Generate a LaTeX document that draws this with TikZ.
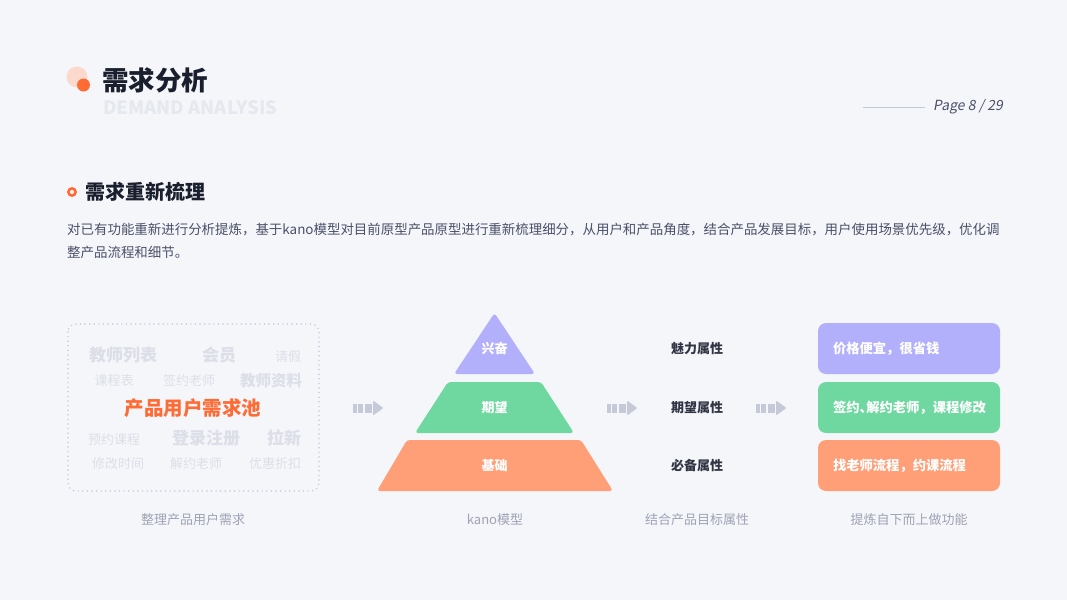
\documentclass[tikz,border=0pt]{standalone}
\usepackage{fontspec}
\setmainfont{Noto Sans CJK SC}
\newfontfamily\pagefont[FakeSlant=0.18]{Noto Sans CJK SC}
\usetikzlibrary{positioning}

\definecolor{bgpage}{HTML}{F5F6FA}
\definecolor{inkdark}{HTML}{1A1F2E}
\definecolor{inkbody}{HTML}{4A5068}
\definecolor{inkmute}{HTML}{9EA3B5}
\definecolor{cloudgray}{HTML}{DCDFE8}
\definecolor{ghostgray}{HTML}{E6E8EF}
\definecolor{linegray}{HTML}{C6CAD8}
\definecolor{accent}{HTML}{FF6B35}
\definecolor{accentpale}{HTML}{FBD9CD}
\definecolor{lvlpurple}{HTML}{B3B0FB}
\definecolor{lvlgreen}{HTML}{6ED8A0}
\definecolor{lvlorange}{HTML}{FF9F78}

\newcommand{\fsz}[1]{\fontsize{#1}{#1}\selectfont}

\tikzset{
  cloud word/.style={inner sep=0pt, text=cloudgray, font=\fsz{13}},
  cloud big/.style={inner sep=0pt, text=cloudgray, font=\fsz{17}\bfseries},
  layer text/.style={inner sep=0pt, text=white, font=\fsz{13}\bfseries},
  attr text/.style={inner sep=0pt, text=inkdark!90, font=\fsz{13}\bfseries},
  feature box/.style={rounded corners=8pt, minimum height=51pt, text width=152pt,
    inner xsep=15pt, inner ysep=0pt, align=left, text=white, font=\fsz{13.3}\bfseries},
  caption/.style={inner sep=0pt, text=inkmute, font=\fsz{13}},
  flow arrow/.pic={
    \fill[linegray] (0,-4.5) rectangle (3.5,4.5);
    \fill[linegray] (5,-4.5) rectangle (10,4.5);
    \fill[linegray] (11.5,-4.5) rectangle (18.5,4.5);
    \fill[linegray, rounded corners=1pt] (20,-7.5) -- (30.5,0) -- (20,7.5) -- cycle;
  }
}

\begin{document}
\begin{tikzpicture}[x=1pt,y=-1pt]
\fill[bgpage] (0,0) rectangle (1067,600);
\useasboundingbox (0,0) rectangle (1067,600);

% title
\fill[accentpale] (77,77) circle (10.5);
\fill[accent] (83.5,85) circle (6.5);
\node[anchor=west, inner sep=0pt, text=inkdark, font=\fsz{26.5}\bfseries] (title) at (102,80) {需求分析};
\node[anchor=west, inner sep=0pt, text=ghostgray, font=\fsz{18.5}\bfseries] (subtitle) at (103,108) {DEMAND ANALYSIS};

% page number
\coordinate (pageline) at (863,107.5);
\node[anchor=west, inner sep=0pt, text=inkbody, font=\pagefont\fsz{14}] (page) at (933,107) {Page 8 / 29};
\draw[linegray, line width=1pt] (pageline) -- ++(62,0);

% section heading
\draw[accent, line width=2.6pt] (72,192) circle (3.6);
\node[anchor=west, inner sep=0pt, text=inkdark, font=\fsz{20}\bfseries] (heading) at (85,192) {需求重新梳理};
\node[anchor=west, inner sep=0pt, text=inkbody, font=\fsz{13.45}] (para1) at (67,230)
  {对已有功能重新进行分析提炼，基于kano模型对目前原型产品原型进行重新梳理细分，从用户和产品角度，结合产品发展目标，用户使用场景优先级，优化调};
\node[anchor=west, inner sep=0pt, text=inkbody, font=\fsz{13.45}] (para2) at (67,252) {整产品流程和细节。};

% demand pool
\draw[linegray, line width=1.7pt, line cap=round, dash pattern=on 0pt off 4.6pt, rounded corners=8pt]
  (68,324) rectangle (319,491);
\node[cloud big] (w1) at (123,355) {教师列表};
\node[cloud big] (w2) at (219,355) {会员};
\node[cloud word] (w3) at (288,357) {请假};
\node[cloud word] (w4) at (114,381) {课程表};
\node[cloud word] (w5) at (189,381) {签约老师};
\node[cloud big, font=\fsz{15.5}\bfseries] (w6) at (271,381) {教师资料};
\node[inner sep=0pt, text=accent, font=\fsz{19.5}\bfseries] (pool) at (193,408) {产品用户需求池};
\node[cloud word] (w7) at (114,440) {预约课程};
\node[cloud big] (w8) at (206,438) {登录注册};
\node[cloud big] (w9) at (284,438) {拉新};
\node[cloud word] (w10) at (118,464) {修改时间};
\node[cloud word] (w11) at (196,464) {解约老师};
\node[cloud word] (w12) at (275,464) {优惠折扣};

% kano pyramid
\fill[lvlpurple, rounded corners=3pt] (454,374) -- (494.5,313) -- (535,374) -- cycle;
\fill[lvlgreen, rounded corners=3pt] (448,382) -- (541,382) -- (574,433) -- (415,433) -- cycle;
\fill[lvlorange, rounded corners=3pt] (407,440) -- (581,440) -- (613,491) -- (377,491) -- cycle;
\node[layer text] (excite) at (494.5,349) {兴奋};
\node[layer text] (expect) at (494.5,408) {期望};
\node[layer text] (basic) at (494.5,466) {基础};

% attributes
\node[attr text] (charm) at (697,349) {魅力属性};
\node[attr text] (wish) at (697,408) {期望属性};
\node[attr text] (must) at (697,466) {必备属性};

% features
\node[feature box, fill=lvlpurple] (feat1) at (909,348.5) {价格便宜，很省钱};
\node[feature box, fill=lvlgreen] (feat2) at (909,407.5) {签约、\kern-0.5em解约老师，课程修改};
\node[feature box, fill=lvlorange] (feat3) at (909,465.5) {找老师流程，约课流程};

% flow arrows
\pic at (353,408) {flow arrow};
\pic at (607,408) {flow arrow};
\pic at (756,408) {flow arrow};

% captions
\node[caption] (cap1) at (193,520) {整理产品用户需求};
\node[caption] (cap2) at (495,520) {kano模型};
\node[caption] (cap3) at (697,520) {结合产品目标属性};
\node[caption] (cap4) at (909,520) {提炼自下而上做功能};
\end{tikzpicture}
\end{document}
